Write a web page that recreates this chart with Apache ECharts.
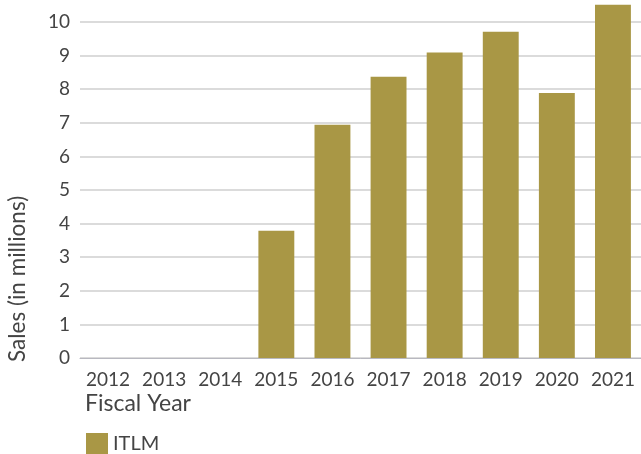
<!DOCTYPE html>
<html>
<head>
<meta charset="utf-8">
<script src="https://cdn.jsdelivr.net/npm/echarts@6/dist/echarts.min.js"></script>
<style>
  html, body { margin: 0; padding: 0; background: #fff; }
  #chart { width: 641px; height: 454px; }
</style>
</head>
<body>
<div id="chart"></div>
<script>
// data
const years = ['2012', '2013', '2014', '2015', '2016', '2017', '2018', '2019', '2020', '2021'];
const itlmSales = [null, null, null, 3.79, 6.94, 8.37, 9.09, 9.71, 7.89, 10.51];
const yTicks = [0, 1, 2, 3, 4, 5, 6, 7, 8, 9, 10];

const gold = '#a99745';
const textColor = '#444';
const font = 'Lato, "Open Sans", sans-serif';

const chart = echarts.init(document.getElementById('chart'));

chart.setOption({
  animation: false,
  grid: {
    left: 80,
    right: -2,
    top: 22,
    bottom: 96
  },
  legend: {
    data: ['ITLM'],
    left: 86,
    top: 433,
    padding: 0,
    itemWidth: 22,
    itemHeight: 21,
    itemGap: 8,
    icon: 'rect',
    textStyle: { color: textColor, fontSize: 20, fontFamily: font }
  },
  xAxis: {
    type: 'category',
    data: years,
    axisTick: { show: false },
    axisLine: { lineStyle: { color: '#b8b8c0', width: 1 } },
    axisLabel: {
      color: textColor,
      fontSize: 19,
      fontFamily: font,
      margin: 12,
      interval: 0
    }
  },
  yAxis: {
    type: 'value',
    min: yTicks[0],
    max: yTicks[yTicks.length - 1],
    interval: 1,
    axisLine: { show: false },
    axisTick: { show: false },
    axisLabel: {
      color: textColor,
      fontSize: 19,
      fontFamily: font,
      margin: 10
    },
    splitLine: { lineStyle: { color: '#cfcfcf', width: 1.5 } }
  },
  graphic: [
    {
      type: 'text',
      left: 85,
      top: 392,
      style: { text: 'Fiscal Year', fill: textColor, fontSize: 23, fontFamily: font }
    },
    {
      type: 'text',
      x: 6,
      y: 362,
      rotation: Math.PI / 2,
      style: { text: 'Sales (in millions)', fill: textColor, fontSize: 22.5, fontFamily: font }
    }
  ],
  series: [{
    name: 'ITLM',
    type: 'bar',
    data: itlmSales,
    barWidth: '64%',
    clip: false,
    itemStyle: { color: gold }
  }]
});
</script>
</body>
</html>
